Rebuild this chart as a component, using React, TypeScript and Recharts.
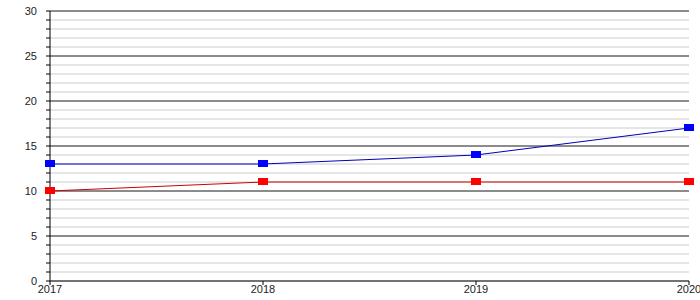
import React from 'react';
import { LineChart, Line, XAxis, YAxis, CartesianGrid, ReferenceLine } from 'recharts';

const years = ['2017', '2018', '2019', '2020'];
const blueValues = [13, 13, 14, 17];
const redValues = [10, 11, 11, 11];
const yTicks = Array.from({ length: 31 }, (_, i) => i);
const majorTicks = [5, 10, 15, 20, 25, 30];

const data = years.map((y, i) => ({ year: y, blue: blueValues[i], red: redValues[i] }));

const SquareDot = (color: string) => (props: any) => {
  const { cx, cy, index } = props;
  if (cx == null || cy == null) return <g key={index} />;
  return <rect key={index} x={cx - 5} y={cy - 4} width={10} height={7} fill={color} />;
};

const YTick = (props: any) => {
  const { x, y, payload } = props;
  if (payload.value % 5 !== 0) return <g />;
  return (
    <text x={x - 7} y={y} dy={4} textAnchor="end" fontSize={11} fill="#222" fontFamily="Liberation Sans, Arial, sans-serif">
      {payload.value}
    </text>
  );
};

export default function App() {
  return (
    <div style={{ position: 'absolute', left: 0, top: 0 }}>
      <LineChart width={700} height={300} data={data} margin={{ top: 11, right: 11, bottom: 0, left: 0 }}>
        <CartesianGrid vertical={false} stroke="#cccccc" strokeDasharray="" />
        {majorTicks.map((v) => (
          <ReferenceLine key={v} y={v} stroke="#333" strokeWidth={1} />
        ))}
        <XAxis
          dataKey="year"
          tickSize={4}
          tickMargin={0}
          height={19}
          stroke="#000"
          tick={{ fontSize: 11, fill: '#222', fontFamily: 'Liberation Sans, Arial, sans-serif' }}
          interval={0}
        />
        <YAxis
          type="number"
          domain={[0, 30]}
          ticks={yTicks}
          interval={0}
          width={50}
          tickSize={4}
          stroke="#000"
          tick={<YTick />}
        />
        <Line
          dataKey="blue"
          stroke="#0000bb"
          strokeWidth={1}
          dot={SquareDot('#0000ff')}
          isAnimationActive={false}
        />
        <Line
          dataKey="red"
          stroke="#cc0000"
          strokeWidth={1}
          dot={SquareDot('#ff0000')}
          isAnimationActive={false}
        />
      </LineChart>
    </div>
  );
}
